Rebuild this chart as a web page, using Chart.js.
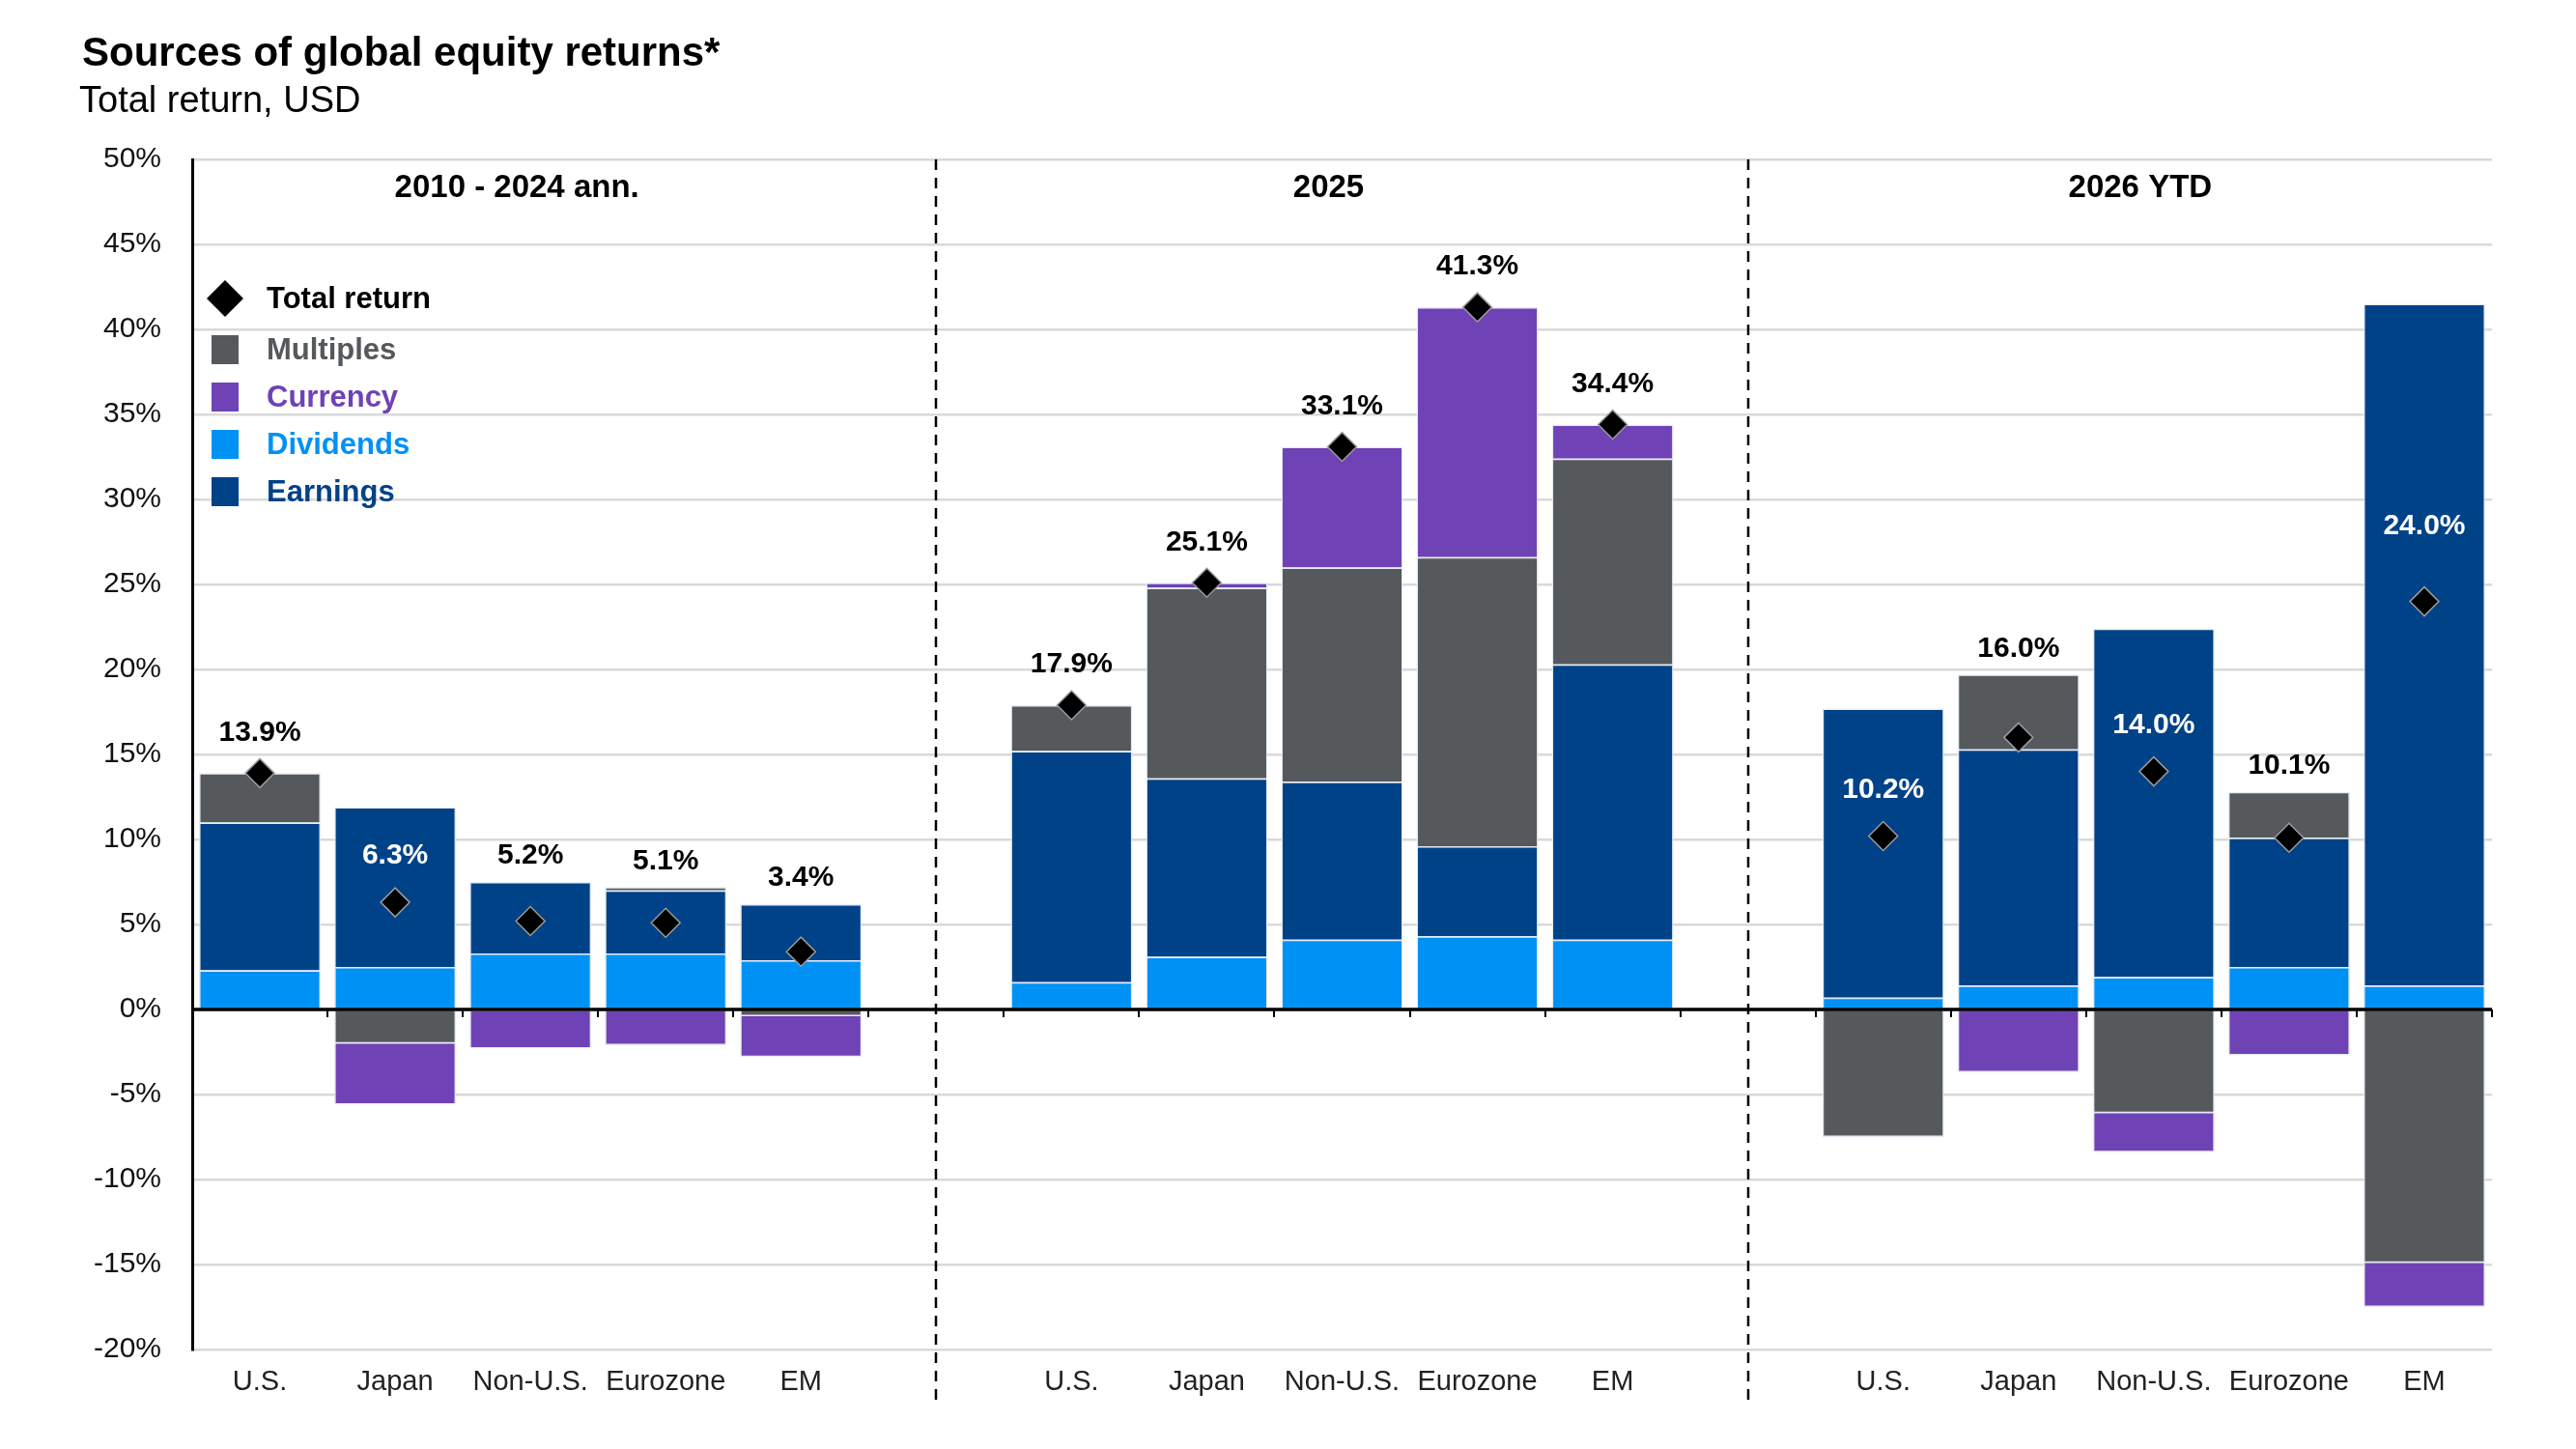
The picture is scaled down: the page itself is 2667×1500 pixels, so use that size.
<!DOCTYPE html>
<html>
<head>
<meta charset="utf-8">
<title>Sources of global equity returns</title>
<script src="https://cdn.jsdelivr.net/npm/chart.js@4.4.1/dist/chart.umd.min.js"></script>
<style>
    html, body { margin: 0; padding: 0; background: #fff; }
    #wrap { width: 2667px; height: 1500px; position: relative; }
</style>
</head>
<body>
<div id="wrap"><canvas id="myChart"></canvas></div>
<script>
// categories: 3 groups of 5 markets, blank slot between groups
const categories = [
    'U.S.', 'Japan', 'Non-U.S.', 'Eurozone', 'EM', '',
    'U.S.', 'Japan', 'Non-U.S.', 'Eurozone', 'EM', '',
    'U.S.', 'Japan', 'Non-U.S.', 'Eurozone', 'EM'
];
const groupNames = ['2010 - 2024 ann.', '2025', '2026 YTD'];

// components (% points)
const dividends = [2.3, 2.5, 3.3, 3.3, 2.9, null, 1.6, 3.1, 4.1, 4.3, 4.1, null, 0.7, 1.4, 1.9, 2.5, 1.4];
const earnings  = [8.7, 9.4, 4.2, 3.7, 3.3, null, 13.6, 10.5, 9.3, 5.3, 16.2, null, 17.0, 13.9, 20.5, 7.6, 40.1];
const multiples = [2.9, -2.0, -0.1, 0.2, -0.4, null, 2.7, 11.2, 12.6, 17.0, 12.1, null, -7.5, 4.4, -6.1, 2.7, -14.9];
const currency  = [0, -3.6, -2.2, -2.1, -2.4, null, 0, 0.3, 7.1, 14.7, 2.0, null, 0, -3.7, -2.3, -2.7, -2.6];
const totalReturn = [13.9, 6.3, 5.2, 5.1, 3.4, null, 17.9, 25.1, 33.1, 41.3, 34.4, null, 10.2, 16.0, 14.0, 10.1, 24.0];

const yTicks = [-20, -15, -10, -5, 0, 5, 10, 15, 20, 25, 30, 35, 40, 45, 50];

const FONT = "'Liberation Sans', Arial, Helvetica, sans-serif";
const COLORS = {
    dividends: '#0091f5',
    earnings: '#004288',
    multiples: '#55595c',
    currency: '#6f42b6',
    total: '#000000',
};

Chart.defaults.font.family = FONT;

function barSet(label, data, color) {
    return {
        type: 'bar',
        label: label,
        data: data,
        backgroundColor: color,
        borderColor: 'rgba(228,234,242,0.95)',
        borderWidth: 1.5,
        stack: 'parts',
        order: 1,
        barPercentage: 0.9,
        categoryPercentage: 1.0,
    };
}

const decorPlugin = {
    id: 'decor',
    afterDatasetsDraw(chart) {
        const { ctx, chartArea, scales: { x, y } } = chart;
        const slot = x.width / categories.length;
        const y0 = y.getPixelForValue(0);
        ctx.save();

        // zero line + little tick marks under it
        ctx.strokeStyle = '#000';
        ctx.lineWidth = 3.5;
        ctx.beginPath();
        ctx.moveTo(chartArea.left, y0);
        ctx.lineTo(chartArea.right, y0);
        ctx.stroke();
        ctx.lineWidth = 2;
        for (let k = 1; k <= categories.length; k++) {
            const px = Math.round(x.left + k * slot);
            ctx.beginPath();
            ctx.moveTo(px, y0);
            ctx.lineTo(px, y0 + 8);
            ctx.stroke();
        }

        // dashed separators between groups
        ctx.setLineDash([11, 8]);
        ctx.lineWidth = 2.5;
        categories.forEach((c, i) => {
            if (c !== '') return;
            const px = Math.round(x.getPixelForValue(i));
            ctx.beginPath();
            ctx.moveTo(px, chartArea.top);
            ctx.lineTo(px, chartArea.bottom + 52);
            ctx.stroke();
        });
        ctx.setLineDash([]);

        // total return labels
        ctx.font = 'bold 30px ' + FONT;
        ctx.textAlign = 'center';
        totalReturn.forEach((t, i) => {
            if (t === null) return;
            const parts = [dividends[i], earnings[i], multiples[i], currency[i]];
            const top = parts.reduce((s, v) => s + (v > 0 ? v : 0), 0);
            const px = x.getPixelForValue(i);
            const text = t.toFixed(1) + '%';
            if (top - t > 5) {
                // label sits inside the tall bar, above the diamond
                ctx.fillStyle = '#fff';
                ctx.textBaseline = 'middle';
                const lift = top - t > 12 ? 78 : 48;
                ctx.fillText(text, px, y.getPixelForValue(t) - lift);
            } else {
                ctx.fillStyle = '#000';
                ctx.textBaseline = 'bottom';
                const yy = Math.min(y.getPixelForValue(top), y.getPixelForValue(t) - 15) - 12;
                ctx.fillText(text, px, yy);
            }
        });
        ctx.restore();
    },
    afterDraw(chart) {
        const { ctx, chartArea, scales: { x } } = chart;
        ctx.save();

        // title + subtitle
        ctx.textAlign = 'left';
        ctx.textBaseline = 'alphabetic';
        ctx.fillStyle = '#000';
        ctx.font = 'bold 42px ' + FONT;
        ctx.fillText('Sources of global equity returns*', 85, 68);
        ctx.font = '38px ' + FONT;
        ctx.fillText('Total return, USD', 82, 116);

        // group headers
        ctx.font = 'bold 33px ' + FONT;
        ctx.textAlign = 'center';
        ctx.textBaseline = 'middle';
        groupNames.forEach((g, k) => {
            ctx.fillText(g, x.getPixelForValue(k * 6 + 2) - 14, chartArea.top + 30);
        });

        // legend inside the plot
        const items = ['Total return', 'Multiples', 'Currency', 'Dividends', 'Earnings'];
        const mx = chartArea.left + 34;
        ctx.textAlign = 'left';
        ctx.font = 'bold 31px ' + FONT;
        items.forEach((name, r) => {
            const ds = chart.data.datasets.find(d => d.label === name);
            const cy = chartArea.top + 144 + r * 49 + (r > 0 ? 4 : 0);
            const color = ds.type === 'line' ? '#000' : ds.backgroundColor;
            ctx.fillStyle = color;
            if (ds.type === 'line') {
                ctx.beginPath();
                ctx.moveTo(mx - 19, cy);
                ctx.lineTo(mx, cy - 19);
                ctx.lineTo(mx + 19, cy);
                ctx.lineTo(mx, cy + 19);
                ctx.closePath();
                ctx.fill();
            } else {
                ctx.fillRect(mx - 14, cy - 15, 28, 30);
            }
            ctx.fillText(name, mx + 43, cy + 1);
        });
        ctx.restore();
    }
};

const config = {
    data: {
        labels: categories,
        datasets: [
            {
                type: 'line',
                label: 'Total return',
                data: totalReturn,
                showLine: false,
                pointStyle: 'rectRot',
                pointRadius: 15,
                backgroundColor: COLORS.total,
                borderColor: '#9a9a9a',
                borderWidth: 1.5,
                stack: 'total',
                order: 0,
            },
            barSet('Dividends', dividends, COLORS.dividends),
            barSet('Earnings', earnings, COLORS.earnings),
            barSet('Multiples', multiples, COLORS.multiples),
            barSet('Currency', currency, COLORS.currency),
        ],
    },
    options: {
        responsive: true,
        maintainAspectRatio: false,
        animation: false,
        events: [],
        layout: { padding: { top: 165, left: 0, right: 87, bottom: 0 } },
        plugins: {
            legend: false,
            tooltip: { enabled: false },
        },
        scales: {
            x: {
                stacked: true,
                grid: { display: false },
                border: { display: false },
                ticks: {
                    color: '#222',
                    autoSkip: false,
                    maxRotation: 0,
                    padding: 9,
                    font: { size: 29 },
                },
                afterFit: (scale) => { scale.height = 103; },
            },
            y: {
                stacked: true,
                min: -20,
                max: 50,
                afterBuildTicks: (scale) => { scale.ticks = yTicks.map(v => ({ value: v })); },
                grid: {
                    color: '#d9d9d9',
                    lineWidth: 2.5,
                    drawTicks: false,
                },
                border: { display: true, color: '#000', width: 3 },
                ticks: {
                    color: '#111',
                    padding: 32,
                    font: { size: 30 },
                    callback: (v) => v + '%',
                },
                afterFit: (scale) => { scale.width = 199; },
            },
        },
    },
    plugins: [decorPlugin],
};

const myChart = new Chart(document.getElementById('myChart'), config);
</script>
</body>
</html>
